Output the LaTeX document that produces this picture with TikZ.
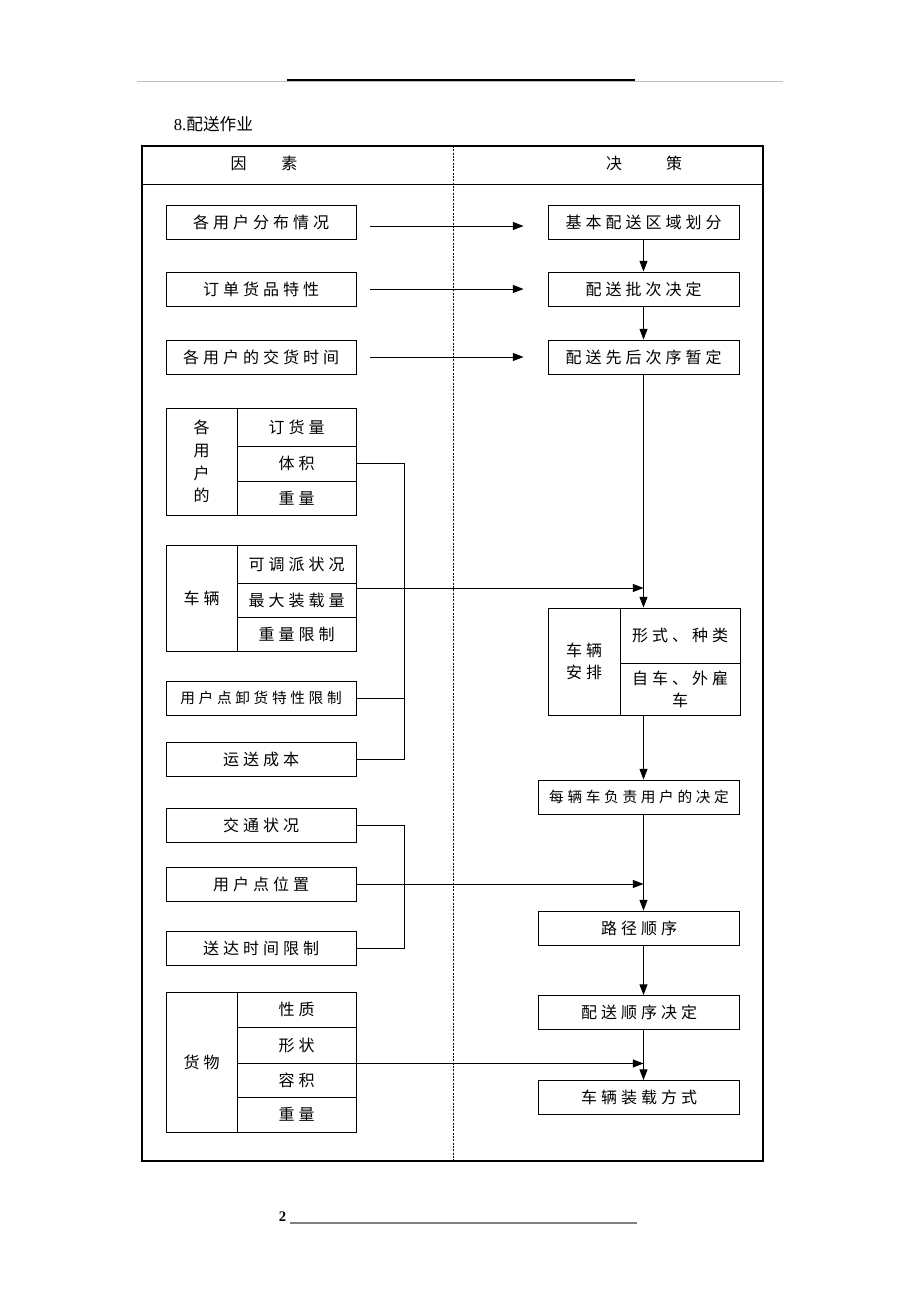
\documentclass[tikz,border=0pt]{standalone}
\usepackage{fontspec}
\setmainfont{Liberation Serif}
\newfontfamily\cjk[LetterSpace=25]{Noto Sans CJK SC}
\newfontfamily\cjktight{Noto Sans CJK SC}
\usetikzlibrary{arrows.meta}

\def\pxl{0.75pt}

\begin{document}
\begin{tikzpicture}[x=\pxl,y=-\pxl,line width=0.7pt,>={Triangle[length=8pt,width=6pt]}]
    \tikzstyle{cell}=[draw,rectangle,inner sep=0pt,align=center,font=\cjk\fontsize{12}{17}\selectfont]
    \tikzstyle{factor}=[cell,minimum width=190*\pxl,minimum height=34*\pxl]
    \tikzstyle{decision}=[cell,minimum width=191*\pxl,minimum height=34*\pxl]
    \tikzstyle{result}=[cell,minimum width=201*\pxl,minimum height=34*\pxl]
    \tikzstyle{label}=[cell,minimum width=71*\pxl]
    \tikzstyle{item}=[cell,minimum width=119*\pxl]
    \tikzstyle{small}=[font=\cjk\fontsize{11}{14}\selectfont]

    \useasboundingbox (0,0) rectangle (920,1302);

    % Draw the page header and the title
    \draw[gray!50,line width=0.7pt] (137,81) -- (783,81);
    \draw[line width=1pt] (287,80) -- (635,80);
    \node[anchor=west,font=\fontsize{12.5}{15}\selectfont] (title) at (169,124) {8.\cjktight 配送作业};

    % Draw the frame of the table
    \draw[line width=1.1pt] (142,146) rectangle (763,1161);
    \draw (142,184) -- (763,184);
    \draw[line width=0.6pt,dash pattern=on 1.5pt off 1pt] (453,146) -- (453,1161);
    \node[font=\cjktight\fontsize{12}{15}\selectfont] (h-f) at (264,163) {因\hspace{26pt}素};
    \node[font=\cjktight\fontsize{12}{15}\selectfont] (h-d) at (644,163) {决\hspace{33pt}策};

    % Column axis of the decisions
    \coordinate (X) at (643.5,0);

    % Draw the first factors and decisions
    \node[factor] (F-1) at (261,222) {各用户分布情况};
    \node[factor] (F-2) at (261,289) {订单货品特性};
    \node[factor] (F-3) at (261,357) {各用户的交货时间};
    \node[decision] (D-1) at (643.5,222) {基本配送区域划分};
    \node[decision] (D-2) at (643.5,289) {配送批次决定};
    \node[decision] (D-3) at (643.5,357) {配送先后次序暂定};

    \draw[->,shorten <=10.5pt,shorten >=18pt] ([yshift=-3pt]F-1.east) -- ([yshift=-3pt]D-1.west);
    \foreach \i in {2,3}
        \draw[->,shorten <=10.5pt,shorten >=18pt] (F-\i) -- (D-\i);
    \draw[->] (D-1) -- (D-2);
    \draw[->] (D-2) -- (D-3);

    % Draw the group of the users
    \node[label,minimum height=107*\pxl] (U) at (201.5,461.5) {各\\用\\户\\的};
    \foreach \name/\y/\h/\txt in {U-1/427/38/订货量,U-2/463.5/35/体积,U-3/498/34/重量}
        \node[item,minimum height=\h*\pxl] (\name) at (296.5,\y) {\txt};

    % Draw the group of the vehicles
    \node[label,minimum height=106*\pxl] (V) at (201.5,598) {车辆};
    \foreach \name/\y/\h/\txt in {V-1/564/38/可调派状况,V-2/600/34/最大装载量,V-3/634/34/重量限制}
        \node[item,minimum height=\h*\pxl] (\name) at (296.5,\y) {\txt};

    \node[factor,small] (F-4) at (261,698) {用户点卸货特性限制};
    \node[factor] (F-5) at (261,759) {运送成本};

    % Join the factors and lead them to the decisions
    \coordinate (J-1) at (404,588);
    \draw (U-2.east) -| (J-1);
    \draw (F-5.east) -| (J-1);
    \draw (F-4.east) -- (F-4.east -| J-1);
    \draw[->] (V-2.east |- J-1) -- (X |- J-1);

    % Draw the arrangement of the vehicles
    \node[label,minimum width=72*\pxl,minimum height=107*\pxl] (A) at (584,661.5) {车辆\\安排};
    \node[item,minimum width=120*\pxl,minimum height=55*\pxl] (A-1) at (680,635.5) {形式、种类};
    \node[item,minimum width=120*\pxl,minimum height=52*\pxl,font=\cjk\fontsize{12}{16.5}\selectfont] (A-2) at (680,689) {自车、外雇\\车};
    \draw[->] (D-3.south) -- (X |- A-1.north);

    % Draw the remaining decisions
    \node[result,small] (R-1) at (639,797) {每辆车负责用户的决定};
    \node[result] (R-2) at (639,928) {路径顺序};
    \node[result] (R-3) at (639,1012.5) {配送顺序决定};
    \node[result] (R-4) at (639,1097.5) {车辆装载方式};

    \draw[->] (X |- A-2.south) -- (X |- R-1.north);
    \draw[->] (X |- R-1.south) -- (X |- R-2.north);
    \draw[->] (X |- R-2.south) -- (X |- R-3.north);
    \draw[->] (X |- R-3.south) -- (X |- R-4.north);

    % Draw the traffic factors
    \node[factor] (F-6) at (261,825) {交通状况};
    \node[factor] (F-7) at (261,884) {用户点位置};
    \node[factor] (F-8) at (261,948) {送达时间限制};

    \coordinate (J-2) at (404,884);
    \draw (F-6.east) -| (J-2);
    \draw (F-8.east) -| (J-2);
    \draw[->] (F-7.east) -- (X |- F-7.east);

    % Draw the group of the goods
    \node[label,minimum height=140*\pxl] (G) at (201.5,1062) {货物};
    \foreach \name/\y/\h/\txt in {G-1/1009.5/35/性质,G-2/1045/36/形状,G-3/1080/34/容积,G-4/1114.5/35/重量}
        \node[item,minimum height=\h*\pxl] (\name) at (296.5,\y) {\txt};
    \draw[->] (G-2.south east) -- (X |- G-2.south east);

    % Draw the page footer
    \node[font=\bfseries\fontsize{11}{13}\selectfont,anchor=base east] (page) at (291,1221) {2};
    \draw[gray,line width=1pt] (290,1223) -- (637,1223);
\end{tikzpicture}
\end{document}
